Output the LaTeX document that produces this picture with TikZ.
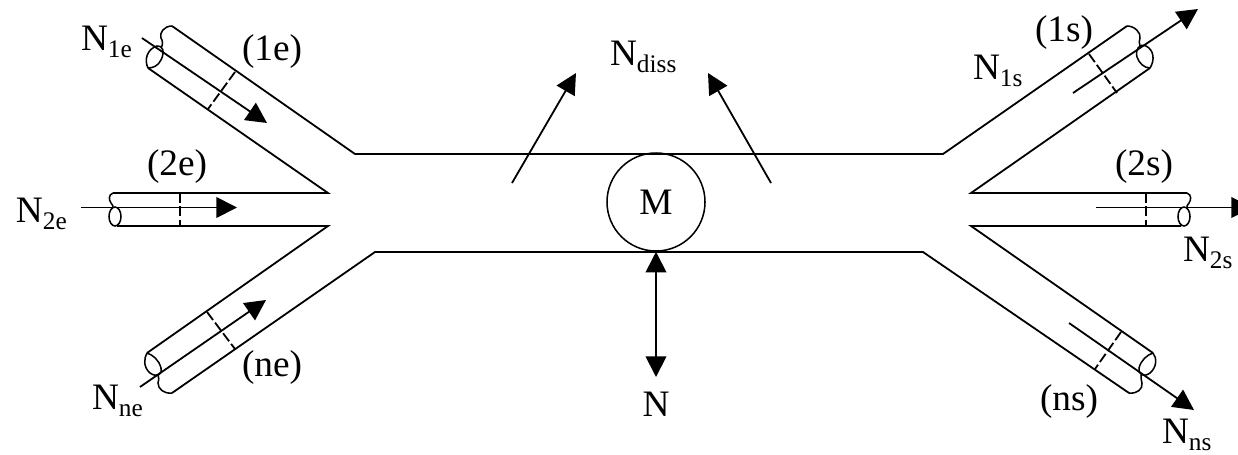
\documentclass[tikz,border=0pt]{standalone}
\usepackage{fontspec}
\setmainfont{Liberation Serif}
\usetikzlibrary{arrows.meta}
\newcommand{\Nsub}[1]{N\raisebox{-0.2em}{\fontsize{19}{20}\selectfont #1}}
\tikzset{
  wall/.style={line width=1.35pt,line join=miter},
  thin wall/.style={line width=1.15pt},
  flow/.style={line width=1.35pt,-{Triangle[length=15.5pt,width=15.5pt]}},
  flowboth/.style={line width=1.35pt,{Triangle[length=15.5pt,width=15.5pt]}-{Triangle[length=15.5pt,width=15.5pt]}},
  section/.style={line width=1.35pt,dash pattern=on 7.5pt off 2.5pt},
  lab/.style={inner sep=0pt,outer sep=0pt,anchor=base west,font=\fontsize{28}{30}\selectfont},
}
\begin{document}
\begin{tikzpicture}[x=0.75pt,y=-0.75pt]
\useasboundingbox (0,0) rectangle (1238,454);
\clip (0,0) rectangle (1238,454);
% channel outline
\draw[wall] (172,26) -- (355,154) -- (943,154) -- (1127,26);
\draw[wall] (148,68) -- (328,193) -- (113,193);
\draw[wall] (117,226) -- (328,226) -- (147,353);
\draw[wall] (172,393) -- (375,252) -- (923,252) -- (1129,393);
\draw[wall] (1150,68) -- (971,193) -- (1187,193);
\draw[wall] (1181,226) -- (971,226) -- (1153,353);
% pipe ends: 1e
\draw[thin wall] (148,68) .. controls (144,60) and (147,49) .. (157,46) .. controls (163,45) and (165,52) .. (161,60) .. controls (158,66) and (153,68) .. (148,68);
\draw[thin wall] (172,26) .. controls (164,26) and (159,33) .. (161,38) .. controls (163,41) and (163,45) .. (161,48);
% 2e
\draw[thin wall] (115,216.5) ellipse (6 and 9.5);
\draw[thin wall] (113,193) .. controls (108,195) and (109,200) .. (111,203) .. controls (113,205) and (113,206) .. (113,208);
% ne
\draw[thin wall] (147,353) .. controls (144,358) and (143,367) .. (150,373) .. controls (157,378) and (163,374) .. (161,368) .. controls (159,360) and (153,355) .. (147,353);
\draw[thin wall] (172,393) .. controls (164,394) and (158,389) .. (158,383) .. controls (159,379) and (159,378) .. (158,375);
% 1s
\draw[thin wall] (1150,68) .. controls (1155,60) and (1154,50) .. (1146,46) .. controls (1139,43) and (1135,50) .. (1137,57) .. controls (1139,63) and (1144,68) .. (1150,68);
\draw[thin wall] (1127,26) .. controls (1135,26) and (1141,33) .. (1140,38) .. controls (1139,41) and (1139,43) .. (1140,46);
% 2s
\draw[thin wall] (1184,216.5) ellipse (6 and 9.5);
\draw[thin wall] (1187,193) .. controls (1192,195) and (1191,200) .. (1189,203) .. controls (1187,205) and (1187,206) .. (1187,208);
% ns
\draw[thin wall] (1153,353) .. controls (1157,358) and (1157,367) .. (1150,373) .. controls (1143,378) and (1138,374) .. (1139,368) .. controls (1141,360) and (1147,355) .. (1153,353);
\draw[thin wall] (1129,393) .. controls (1137,394) and (1143,389) .. (1142,383) .. controls (1141,379) and (1141,378) .. (1141,375);
% free ends of the flow arrows
\coordinate (a1a) at (142,38);   \coordinate (a1b) at (267,123);
\coordinate (a2a) at (81,207.5); \coordinate (a2b) at (237,207.5);
\coordinate (ana) at (140,387);  \coordinate (anb) at (266,300);
\coordinate (b1a) at (1073,93);  \coordinate (b1b) at (1198,9);
\coordinate (b2a) at (1096,207.5); \coordinate (b2b) at (1252,207.5);
\coordinate (bna) at (1069,323); \coordinate (bnb) at (1194,410);
\coordinate (dla) at (512,183);  \coordinate (dlb) at (576,73);
\coordinate (dra) at (771,183);  \coordinate (drb) at (708,73);
\coordinate (nend) at (656,377);
\draw[flow] (a1a) -- (a1b);
\draw[flow] (a2a) -- (a2b);
\draw[flow] (ana) -- (anb);
\draw[flow] (b1a) -- (b1b);
\draw[flow] (b2a) -- (b2b);
\draw[flow] (bna) -- (bnb);
\draw[flow] (dla) -- (dlb);
\draw[flow] (dra) -- (drb);
% measuring sections
\coordinate (s1a) at (235,72);   \coordinate (s1b) at (208,109);
\coordinate (s2a) at (180,193);  \coordinate (s2b) at (180,226);
\coordinate (sna) at (207,312);  \coordinate (snb) at (235,349);
\coordinate (t1a) at (1089,54);  \coordinate (t1b) at (1117,93);
\coordinate (t2a) at (1146,193); \coordinate (t2b) at (1146,226);
\coordinate (tna) at (1121,332); \coordinate (tnb) at (1095,369);
\draw[section] (s1a) -- (s1b);
\draw[section] (s2a) -- (s2b);
\draw[section] (sna) -- (snb);
\draw[section] (t1a) -- (t1b);
\draw[section] (t2a) -- (t2b);
\draw[section] (tna) -- (tnb);
% machine
\node[draw,circle,line width=1.15pt,minimum size=73.5pt,inner sep=0pt,font=\fontsize{28}{30}\selectfont] (M) at (656,202) {M};
\draw[flowboth] (M.south) -- (nend);
% labels
\node[lab] (l1e) at (81,50) {\Nsub{1e}};
\node[lab] (p1e) at (242,60) {(1e)};
\node[lab] (p2e) at (147,175) {(2e)};
\node[lab] (l2e) at (16,222) {\Nsub{2e}};
\node[lab] (pne) at (242,376) {(ne)};
\node[lab] (lne) at (92,409) {\Nsub{ne}};
\node[lab] (p1s) at (1035,41) {(1s)};
\node[lab] (l1s) at (973,79) {\Nsub{1s}};
\node[lab] (p2s) at (1115,175) {(2s)};
\node[lab] (l2s) at (1183,261) {\Nsub{2s}};
\node[lab] (pns) at (1040,410) {(ns)};
\node[lab] (lns) at (1162,443) {\Nsub{ns}};
\node[lab] (ldiss) at (610,65) {\Nsub{diss}};
\node[lab,anchor=base] (lN) at (656,416) {N};
\end{tikzpicture}
\end{document}
